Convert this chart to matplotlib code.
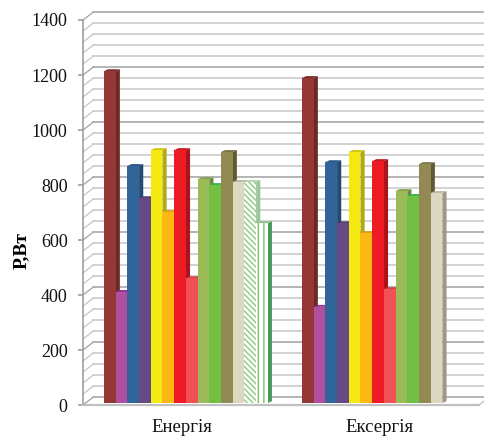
#!/usr/bin/env python3
import matplotlib
matplotlib.use("Agg")
import matplotlib.pyplot as plt
from matplotlib.patches import Polygon

plt.rcParams['font.family'] = ['Liberation Serif', 'DejaVu Serif']
plt.rcParams['hatch.linewidth'] = 1.0

categories = ["Енергія", "Ексергія"]
energy = [1207, 404, 862, 745, 920, 695, 920, 454, 814, 793, 913, 804, 804, 654]
exergy = [1182, 350, 876, 654, 913, 618, 880, 414, 771, 753, 869, 764]

front_colors = ['#953735', '#b04fa0', '#31659a', '#664a86', '#f5e912', '#fdb913', '#ed1c24',
                '#f15055', '#9bbb59', '#72bf44', '#938953', '#ddd8c2', 'white', 'white']
side_colors = ['#6b2826', '#7f3873', '#234a70', '#4a3561', '#b3aa0d', '#b8860e', '#ab141a',
               '#ae3a3e', '#71883f', '#4f8a2f', '#5f5935', '#9c9988', '#9cc79a', '#4a9a55']
top_colors = ['#7d2e2c', '#982f8c', '#28547f', '#55406f', '#cfc50f', '#dca010', '#cb1820',
              '#cf4449', '#84a04a', '#3bb54a', '#7a7145', '#bdb9a6', '#b5d5b0', '#8fbf90']
hatches = [None] * 12 + ['\\\\\\\\\\\\', '|||']
hatch_colors = {12: '#8ccb7c', 13: '#7cc26a'}

W, H = 484, 440
fig = plt.figure(figsize=(W / 100, H / 100), dpi=100)
ax = fig.add_axes([83 / W, (H - 405) / H, 396 / W, 385 / H])
ax.set_xlim(0, 2)
ax.set_ylim(0, 1400)

# 3d look, offsets in data units
wall_dx, wall_dy = 0.0505, 28
bar_w = 0.0591
side_dx, side_dy = 0.021, 7
base = 7
start = 0.106

# back wall lines + left wall diagonals
for v in range(0, 1401, 40):
    major = v % 200 == 0
    c = '#a0a0a0' if major else '#c6c6c6'
    ax.plot([0, wall_dx], [v, v + wall_dy], color=c, lw=0.9, clip_on=False, zorder=1)
    ax.plot([wall_dx, 2 + wall_dx], [v + wall_dy, v + wall_dy], color=c, lw=1.1, clip_on=False, zorder=1)
ax.plot([2, 2 + wall_dx], [0, wall_dy], color='#c6c6c6', lw=1.0, clip_on=False, zorder=1)

z = 3
for g, values in enumerate([energy, exergy]):
    for i, v in enumerate(values):
        x0 = g + start + i * bar_w
        x1 = x0 + bar_w
        y1 = v + base
        ax.add_patch(Polygon([(x1, base), (x1 + side_dx, base + side_dy), (x1 + side_dx, y1 + side_dy), (x1, y1)],
                             closed=True, fc=side_colors[i], ec='none', zorder=z, clip_on=False))
        ax.add_patch(Polygon([(x0, y1), (x0 + side_dx, y1 + side_dy), (x1 + side_dx, y1 + side_dy), (x1, y1)],
                             closed=True, fc=top_colors[i], ec='none', zorder=z, clip_on=False))
        ax.bar(x0, v, bar_w, bottom=base, align='edge', color=front_colors[i],
               hatch=hatches[i], edgecolor=hatch_colors.get(i, front_colors[i]),
               linewidth=0, zorder=z + 1)
        z += 2

for s in ['top', 'right']:
    ax.spines[s].set_visible(False)
ax.spines['left'].set_color('#a0a0a0')
ax.spines['left'].set_linewidth(1.2)
ax.spines['bottom'].set_color('#c0c0c0')
ax.spines['bottom'].set_linewidth(1.6)

ax.set_yticks(range(0, 1401, 200))
ax.set_xticks([0.5, 1.5])
ax.set_xticklabels(categories)
ax.tick_params(axis='y', labelsize=13, color='#a0a0a0', length=3.6, width=1.2, pad=7.5, labelcolor='#111111')
ax.tick_params(axis='x', labelsize=13.5, length=0, pad=10, labelcolor='#111111')
ax.set_ylabel("Р,Вт", fontsize=14, fontweight='bold')
ax.yaxis.set_label_coords(-53 / 396, 0.40)

fig.savefig("out.png", dpi=100)
